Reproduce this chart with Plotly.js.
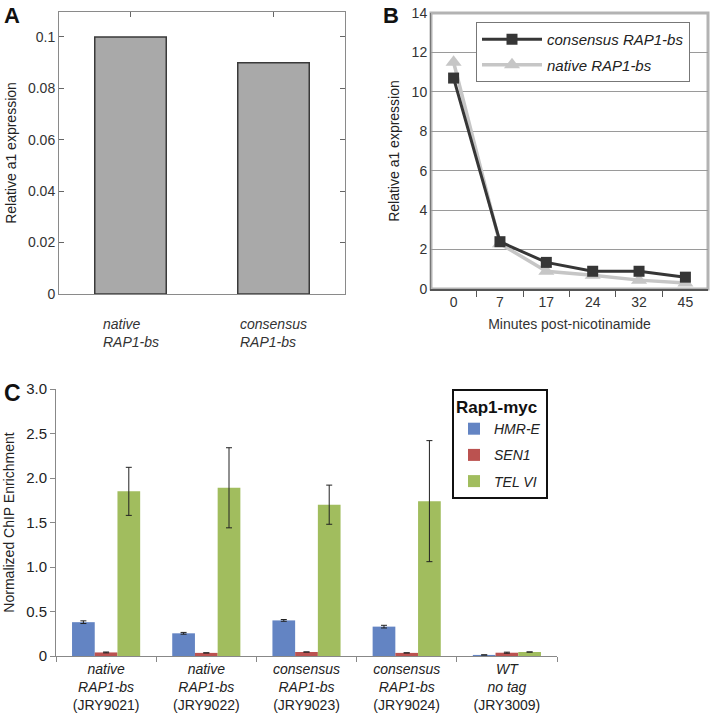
<!DOCTYPE html>
<html>
<head>
<meta charset="utf-8">
<script src="https://cdn.plot.ly/plotly-3.0.1.min.js"></script>
<style>html,body{margin:0;padding:0;background:#fff;}#chart{width:711px;height:715px;}</style>
</head>
<body>
<div id="chart"></div>
<script>
// ---- Panel A data ----
const panelACats = ['native', 'consensus'];
const panelALabels = ['native<br>RAP1-bs', 'consensus<br>RAP1-bs'];
const panelAValues = [0.1, 0.09];
const panelATicks = [0, 0.02, 0.04, 0.06, 0.08, 0.1];
const panelATickText = ['0', '0.02', '0.04', '0.06', '0.08', '0.1'];

// ---- Panel B data ----
const minutesB = ['0', '7', '17', '24', '32', '45'];
const consensusB = [10.7, 2.4, 1.35, 0.9, 0.9, 0.6];
const nativeB = [11.5, 2.3, 0.9, 0.7, 0.45, 0.3];

// ---- Panel C data ----
const strainsC = ['JRY9021', 'JRY9022', 'JRY9023', 'JRY9024', 'JRY3009'];
const strainLabelsC = [
  '<i>native</i><br><i>RAP1-bs</i><br>(JRY9021)',
  '<i>native</i><br><i>RAP1-bs</i><br>(JRY9022)',
  '<i>consensus</i><br><i>RAP1-bs</i><br>(JRY9023)',
  '<i>consensus</i><br><i>RAP1-bs</i><br>(JRY9024)',
  '<i>WT</i><br><i>no tag</i><br>(JRY3009)'
];
const hmrE = [0.38, 0.255, 0.40, 0.33, 0.012];
const hmrEErr = [0.015, 0.01, 0.01, 0.015, 0];
const sen1 = [0.04, 0.035, 0.045, 0.035, 0.037];
const sen1Err = [0.005, 0, 0, 0, 0.006];
const telVI = [1.85, 1.89, 1.70, 1.74, 0.045];
const telVIErr = [0.27, 0.45, 0.22, 0.68, 0];
const panelCTicks = [0, 0.5, 1.0, 1.5, 2.0, 2.5, 3.0];
const panelCTickText = ['0', '0.5', '1.0', '1.5', '2.0', '2.5', '3.0'];

const FONT = 'Liberation Sans, Arial, sans-serif';
const errStyle = {type: 'data', visible: true, color: '#222', thickness: 1, width: 3};

const traces = [
  {type: 'bar', x: panelACats, y: panelAValues, xaxis: 'x', yaxis: 'y', width: 0.5,
   marker: {color: '#a9a9a9', line: {color: '#3a3a3a', width: 1.5}}, showlegend: false, hoverinfo: 'skip'},
  {type: 'scatter', mode: 'lines+markers', x: minutesB, y: nativeB, xaxis: 'x2', yaxis: 'y2',
   name: 'native RAP1-bs', legend: 'legend', legendrank: 2, legendgroup: 'n',
   line: {color: '#c6c6c6', width: 3.5}, marker: {symbol: 'triangle-up', size: 14, color: '#c6c6c6'}},
  {type: 'scatter', mode: 'lines+markers', x: minutesB, y: consensusB, xaxis: 'x2', yaxis: 'y2',
   name: 'consensus RAP1-bs', legend: 'legend', legendrank: 1, legendgroup: 'c',
   line: {color: '#363636', width: 3}, marker: {symbol: 'square', size: 11, color: '#363636'}},
  {type: 'bar', x: strainsC, y: hmrE, xaxis: 'x3', yaxis: 'y3', name: 'HMR-E', legend: 'legend2', legendgroup: 'h',
   marker: {color: '#6384c3'}, error_y: Object.assign({array: hmrEErr}, errStyle)},
  {type: 'bar', x: strainsC, y: sen1, xaxis: 'x3', yaxis: 'y3', name: 'SEN1', legend: 'legend2', legendgroup: 's',
   marker: {color: '#bb5250'}, error_y: Object.assign({array: sen1Err}, errStyle)},
  {type: 'bar', x: strainsC, y: telVI, xaxis: 'x3', yaxis: 'y3', name: 'TEL VI', legend: 'legend2', legendgroup: 't',
   marker: {color: '#a1bd5e'}, error_y: Object.assign({array: telVIErr}, errStyle)}
];

const annotations = [
  {text: '<b>A</b>', x: 0.003, y: 0.999, xref: 'paper', yref: 'paper', xanchor: 'left', yanchor: 'top',
   showarrow: false, font: {size: 22, color: '#111', family: FONT}},
  {text: '<b>B</b>', x: 381 / 711, y: 0.999, xref: 'paper', yref: 'paper', xanchor: 'left', yanchor: 'top',
   showarrow: false, font: {size: 22, color: '#111', family: FONT}},
  {text: '<b>C</b>', x: 0.003, y: 1 - 378 / 715, xref: 'paper', yref: 'paper', xanchor: 'left', yanchor: 'top',
   showarrow: false, font: {size: 23, color: '#111', family: FONT}}
];
panelACats.forEach((c, i) => {
  annotations.push({text: '<i>' + panelALabels[i].replace('<br>', '</i><br><i>') + '</i>', x: c, xref: 'x',
    y: 1 - 314 / 715, yref: 'paper', xanchor: 'center', yanchor: 'top', align: 'left', showarrow: false,
    font: {size: 14, color: '#333', family: FONT}});
});

const layout = {
  width: 711, height: 715,
  margin: {l: 0, r: 0, t: 0, b: 0},
  paper_bgcolor: '#fff', plot_bgcolor: 'rgba(0,0,0,0)',
  font: {family: FONT, color: '#222', size: 14},
  barmode: 'group', bargap: 0.32, bargroupgap: 0,
  xaxis: {domain: [59 / 711, 345 / 711], anchor: 'y', type: 'category', range: [-0.5, 1.5],
    showline: true, mirror: 'ticks', linecolor: '#8a8a8a', linewidth: 1, showticklabels: false,
    ticks: 'inside', ticklen: 5, tickcolor: '#666', showgrid: false, layer: 'below traces'},
  yaxis: {domain: [1 - 294 / 715, 1 - 12 / 715], anchor: 'x', range: [0, 0.1097],
    tickvals: panelATicks, ticktext: panelATickText, ticks: 'inside', ticklen: 5, tickcolor: '#666',
    mirror: 'ticks', showline: true, linecolor: '#8a8a8a', showgrid: false, zeroline: false,
    tickfont: {size: 14, color: '#333'},
    title: {text: 'Relative a1 expression', font: {size: 14, color: '#222'}, standoff: 8}},
  xaxis2: {domain: [431 / 711, 708 / 711], anchor: 'y2', type: 'category', categoryorder: 'array',
    categoryarray: minutesB, showline: true, linecolor: '#555', linewidth: 1.5, ticks: 'outside',
    tickson: 'boundaries', ticklen: 6, tickcolor: '#555', showgrid: false,
    tickfont: {size: 14, color: '#333'},
    title: {text: 'Minutes post-nicotinamide', font: {size: 14, color: '#333'}, standoff: 10}},
  yaxis2: {domain: [1 - 289 / 715, 1 - 13 / 715], anchor: 'x2', range: [0, 14], dtick: 2,
    showgrid: true, gridcolor: '#9a9a9a', gridwidth: 1, showline: true, linecolor: '#777',
    zeroline: false, ticks: '', tickfont: {size: 14, color: '#333'},
    title: {text: 'Relative a1 expression', font: {size: 14, color: '#222'}, standoff: 8}},
  xaxis3: {domain: [56 / 711, 557 / 711], anchor: 'y3', type: 'category', tickvals: strainsC,
    ticktext: strainLabelsC, showline: true, linecolor: '#888', ticks: 'outside', tickson: 'boundaries',
    ticklen: 5, tickcolor: '#888', showgrid: false, tickfont: {size: 14, color: '#222'}},
  yaxis3: {domain: [1 - 656 / 715, 1 - 389 / 715], anchor: 'x3', range: [0, 3],
    tickvals: panelCTicks, ticktext: panelCTickText, ticks: 'outside', ticklen: 5, tickcolor: '#888',
    showline: true, linecolor: '#888', showgrid: false, zeroline: false,
    tickfont: {size: 15, color: '#222'},
    title: {text: 'Normalized ChIP Enrichment', font: {size: 14, color: '#222'}, standoff: 8}},
  legend: {x: 476 / 711, y: 1 - 22 / 715, xanchor: 'left', yanchor: 'top', bgcolor: '#fff',
    bordercolor: '#777', borderwidth: 1, font: {size: 15, style: 'italic', color: '#222'},
    traceorder: 'grouped', tracegroupgap: 3, itemwidth: 60},
  legend2: {x: 452 / 711, y: 1 - 389 / 715, xanchor: 'left', yanchor: 'top', bgcolor: '#fff',
    bordercolor: '#111', borderwidth: 2, font: {size: 14, style: 'italic', color: '#222'},
    title: {text: '<b>Rap1-myc</b>', font: {size: 17, color: '#111', style: 'normal'}},
    traceorder: 'grouped', tracegroupgap: 5},
  shapes: [
    {type: 'rect', xref: 'x2 domain', yref: 'y2 domain', x0: 0, x1: 1, y0: 0, y1: 1,
     line: {color: '#b3b3b3', width: 3}, layer: 'below'}
  ],
  annotations: annotations
};

Plotly.newPlot('chart', traces, layout, {displayModeBar: false, staticPlot: true});
</script>
</body>
</html>
